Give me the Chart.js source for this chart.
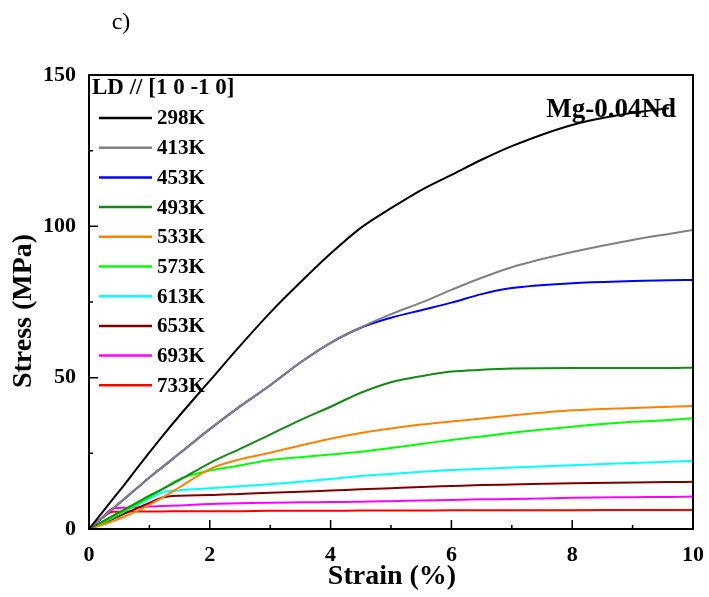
<!DOCTYPE html>
<html>
<head>
<meta charset="utf-8">
<script src="https://cdn.jsdelivr.net/npm/chart.js@4.4.1/dist/chart.umd.min.js"></script>
<style>
  body { margin: 0; background: #fff; }
  #wrap { width: 709px; height: 597px; }
</style>
</head>
<body>
<div id="wrap"><canvas id="chart" width="709" height="597"></canvas></div>
<script>
// ========== DATA ========== //
const strain = [0, 0.2, 0.4, 0.6, 0.8, 1, 1.2, 1.5, 2, 2.5, 3, 3.5, 4, 4.5, 5, 5.5, 6, 6.5, 7, 8, 9, 9.6, 10];

const s298 = [0, 5, 10, 15, 20.2, 25.3, 30.3, 37.5, 49, 60.5, 71.5, 81.5, 91, 99.5, 106, 112, 117, 122, 126.5, 133.5, 137.5, 139, null];
const s413 = [0, 3.4, 6.8, 10.2, 13.6, 17, 20.2, 25, 33, 40.5, 47.5, 55, 61.5, 66.6, 71, 74.8, 79, 83, 86.5, 91.5, 95.5, 97.5, 98.8];
const s453 = [0, 3.4, 6.8, 10.2, 13.6, 17, 20.2, 25, 33, 40.5, 47.5, 55, 61.5, 66.5, 69.8, 72.3, 74.8, 77.6, 79.6, 81.2, 81.9, 82.2, 82.3];
const s493 = [0, 2.2, 4.4, 6.6, 8.8, 11, 13, 16.2, 21.8, 26.5, 31.2, 36, 40.4, 45, 48.5, 50.5, 52, 52.6, 53, 53.2, 53.2, 53.2, 53.3];
const s533 = [0, 1.2, 2.6, 4.2, 6, 8, 10.2, 13.8, 19.8, 23, 25.2, 27.6, 29.8, 31.7, 33.2, 34.5, 35.5, 36.5, 37.5, 39.2, 40, 40.4, 40.6];
const s573 = [0, 1.8, 3.8, 6, 8.2, 10.5, 13, 16.5, 19.3, 21, 22.8, 23.7, 24.6, 25.5, 26.8, 28.1, 29.4, 30.6, 31.8, 33.8, 35.4, 36, 36.6];
const s613 = [0, 2, 4, 6, 8, 10, 12, 12.8, 13.5, 14.1, 14.8, 15.6, 16.5, 17.5, 18.2, 18.9, 19.5, 19.9, 20.3, 21.1, 21.8, 22.2, 22.5];
const s653 = [0, 1.7, 3.4, 5.2, 6.9, 8.6, 10.3, 11, 11.2, 11.6, 12, 12.3, 12.7, 13.1, 13.5, 13.9, 14.2, 14.5, 14.7, 15.1, 15.4, 15.5, 15.6];
const s693 = [0, 3.4, 6.8, 7, 7.2, 7.4, 7.6, 7.8, 8.3, 8.5, 8.7, 8.8, 8.9, 9, 9.2, 9.4, 9.6, 9.8, 9.9, 10.3, 10.5, 10.6, 10.7];
const s733 = [0, 3.4, 5.7, 5.7, 5.8, 5.8, 5.8, 5.9, 5.9, 5.9, 6, 6, 6, 6.1, 6.1, 6.1, 6.2, 6.2, 6.2, 6.2, 6.3, 6.3, 6.3];

const labels = ["298K", "413K", "453K", "493K", "533K", "573K", "613K", "653K", "693K", "733K"];
const series = [s298, s413, s453, s493, s533, s573, s613, s653, s693, s733];
const colors = ["#000000", "#808080", "#0000ff", "#138a13", "#ff8000", "#00ff00", "#00ffff", "#800000", "#ff00ff", "#ff0000"];

const xTicks = [0, 2, 4, 6, 8, 10];
const yTicks = [0, 50, 100, 150];

// ========== HELPERS ========== //
function toPoints(ys) {
  let pts = [];
  ys.forEach((y, i) => { if (y !== null) pts.push({ x: strain[i], y: y }); });
  return pts;
}

const serif = "'Liberation Serif', 'Times New Roman', serif";

// frame, inward ticks, titles and legend
const decor = {
  id: "decor",
  afterDraw(chart) {
    const ctx = chart.ctx;
    const a = chart.chartArea;
    const xs = chart.scales.x, ys = chart.scales.y;
    ctx.save();
    ctx.strokeStyle = "#000";
    ctx.lineWidth = 2;
    ctx.strokeRect(a.left, a.top, a.right - a.left, a.bottom - a.top);

    ctx.lineWidth = 1.5;
    ctx.beginPath();
    for (let v = 0; v <= 10; v += 1) {
      let px = xs.getPixelForValue(v);
      let len = v % 2 === 0 ? 9 : 4;
      ctx.moveTo(px, a.bottom);
      ctx.lineTo(px, a.bottom - len);
    }
    for (let v = 0; v <= 150; v += 25) {
      let py = ys.getPixelForValue(v);
      let len = v % 50 === 0 ? 9 : 4;
      ctx.moveTo(a.left, py);
      ctx.lineTo(a.left + len, py);
    }
    ctx.stroke();

    ctx.fillStyle = "#000";
    // axis titles
    ctx.font = "bold 28px " + serif;
    ctx.textAlign = "center";
    ctx.textBaseline = "middle";
    ctx.fillText("Strain (%)", 392, 577);
    ctx.save();
    ctx.translate(24, 311);
    ctx.rotate(-Math.PI / 2);
    ctx.fillText("Stress (MPa)", 0, 0);
    ctx.restore();

    // panel label and alloy name
    ctx.font = "24px " + serif;
    ctx.fillText("c)", 121, 23);
    ctx.font = "bold 27px " + serif;
    ctx.textAlign = "right";
    ctx.textBaseline = "alphabetic";
    ctx.fillText("Mg-0.04Nd", 676, 117);

    // legend
    ctx.textAlign = "left";
    ctx.font = "bold 23px " + serif;
    ctx.fillText("LD // [1 0 -1 0]", 92, 94);
    ctx.font = "bold 21px " + serif;
    ctx.textBaseline = "middle";
    chart.data.datasets.forEach((d, i) => {
      let y = 118 + i * 29.7;
      ctx.strokeStyle = d.borderColor;
      ctx.lineWidth = 2.5;
      ctx.beginPath();
      ctx.moveTo(99, y);
      ctx.lineTo(152, y);
      ctx.stroke();
      ctx.fillText(d.label, 157, y + 1);
    });
    ctx.restore();
  }
};

// ========== CHART ========== //
new Chart(document.getElementById("chart"), {
  type: "scatter",
  data: {
    datasets: labels.map((l, i) => ({
      label: l,
      data: toPoints(series[i]),
      showLine: true,
      borderColor: colors[i],
      backgroundColor: colors[i],
      borderWidth: 2,
      pointRadius: 0,
      cubicInterpolationMode: "monotone"
    }))
  },
  options: {
    responsive: false,
    animation: false,
    layout: { padding: { top: 75, right: 10, left: 0, bottom: 0 } },
    plugins: { legend: { display: false }, tooltip: { enabled: false } },
    scales: {
      x: {
        type: "linear", min: 0, max: 10,
        afterBuildTicks: s => { s.ticks = xTicks.map(v => ({ value: v })); },
        afterFit: s => { s.height = 68; },
        grid: { display: false },
        border: { display: false },
        ticks: { color: "#000", padding: 5, font: { family: serif, size: 22, weight: "bold" } }
      },
      y: {
        type: "linear", min: 0, max: 150,
        afterBuildTicks: s => { s.ticks = yTicks.map(v => ({ value: v })); },
        afterFit: s => { s.width = 89; },
        grid: { display: false },
        border: { display: false },
        ticks: { color: "#000", padding: 5, font: { family: serif, size: 22, weight: "bold" } }
      }
    }
  },
  plugins: [decor]
});
</script>
</body>
</html>
